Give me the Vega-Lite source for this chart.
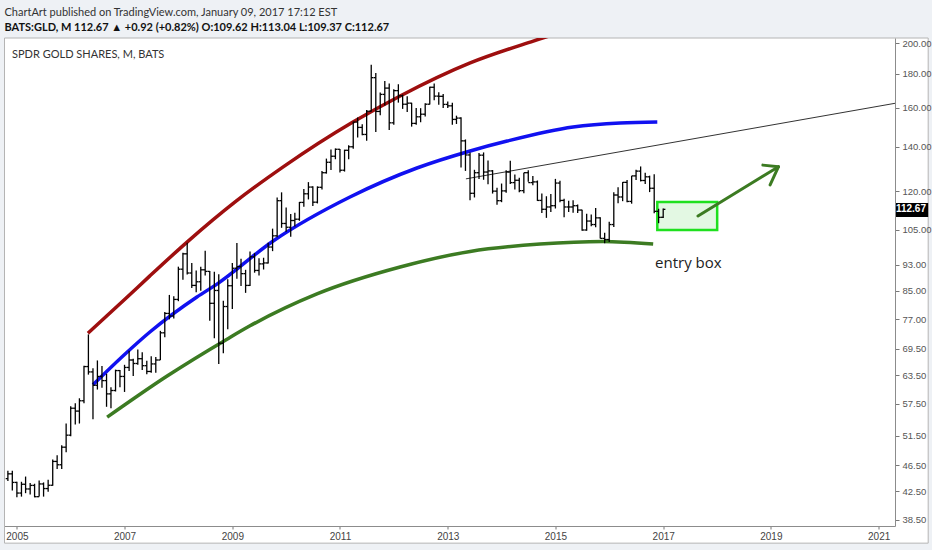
{
  "$schema": "https://vega.github.io/schema/vega-lite/v6.json",
  "width": 890.5,
  "height": 488,
  "autosize": "none",
  "padding": {"left": 4.5, "top": 38, "right": 37, "bottom": 24},
  "background": "#eef1f5",
  "title": {
    "text": "ChartArt published on TradingView.com, January 09, 2017 17:12 EST",
    "subtitle": "BATS:GLD, M  112.67 ▲ +0.92 (+0.82%)  O:109.62 H:113.04 L:109.37 C:112.67",
    "anchor": "start",
    "frame": "group",
    "font": "Lato",
    "fontSize": 11,
    "fontWeight": "normal",
    "color": "#333333",
    "subtitleFont": "Lato",
    "subtitleFontSize": 11,
    "subtitleFontWeight": "bold",
    "subtitleColor": "#111111",
    "subtitlePadding": 4,
    "offset": 5
  },
  "config": {
    "view": {"fill": "white", "stroke": "#8c8c8c"},
    "axis": {"grid": false, "labelFont": "Liberation Sans", "labelFontSize": 9.5, "labelColor": "#555555", "tickColor": "#777777", "domainColor": "#8c8c8c"}
  },
  "datasets": {
    "bars": [
      {"date": "2004-11-01", "open": 44.38, "high": 45.6, "low": 44.0, "close": 45.12},
      {"date": "2004-12-01", "open": 45.12, "high": 45.6, "low": 42.6, "close": 43.8},
      {"date": "2005-01-01", "open": 43.8, "high": 43.9, "low": 41.6, "close": 42.22},
      {"date": "2005-02-01", "open": 42.22, "high": 43.9, "low": 41.7, "close": 43.52},
      {"date": "2005-03-01", "open": 43.52, "high": 44.7, "low": 42.2, "close": 42.82},
      {"date": "2005-04-01", "open": 42.82, "high": 43.7, "low": 42.0, "close": 43.35},
      {"date": "2005-05-01", "open": 43.35, "high": 43.6, "low": 41.6, "close": 41.69},
      {"date": "2005-06-01", "open": 41.69, "high": 44.1, "low": 41.7, "close": 43.57},
      {"date": "2005-07-01", "open": 43.57, "high": 43.8, "low": 41.7, "close": 42.88},
      {"date": "2005-08-01", "open": 42.88, "high": 44.2, "low": 42.4, "close": 43.37},
      {"date": "2005-09-01", "open": 43.37, "high": 47.4, "low": 43.3, "close": 47.1},
      {"date": "2005-10-01", "open": 47.1, "high": 48.1, "low": 45.9, "close": 46.56},
      {"date": "2005-11-01", "open": 46.56, "high": 49.8, "low": 45.9, "close": 49.48},
      {"date": "2005-12-01", "open": 49.48, "high": 53.7, "low": 48.6, "close": 51.58},
      {"date": "2006-01-01", "open": 51.58, "high": 57.0, "low": 51.4, "close": 56.62},
      {"date": "2006-02-01", "open": 56.62, "high": 57.6, "low": 53.5, "close": 56.06},
      {"date": "2006-03-01", "open": 56.06, "high": 58.6, "low": 53.7, "close": 58.1},
      {"date": "2006-04-01", "open": 58.1, "high": 65.6, "low": 57.6, "close": 65.4},
      {"date": "2006-05-01", "open": 65.4, "high": 73.1, "low": 63.6, "close": 64.2},
      {"date": "2006-06-01", "open": 64.2, "high": 65.0, "low": 54.5, "close": 61.3},
      {"date": "2006-07-01", "open": 61.3, "high": 66.8, "low": 60.4, "close": 63.2},
      {"date": "2006-08-01", "open": 63.2, "high": 65.5, "low": 60.8, "close": 62.3},
      {"date": "2006-09-01", "open": 62.3, "high": 63.8, "low": 56.9, "close": 59.5},
      {"date": "2006-10-01", "open": 59.5, "high": 60.9, "low": 56.6, "close": 60.2},
      {"date": "2006-11-01", "open": 60.2, "high": 64.7, "low": 60.0, "close": 64.5},
      {"date": "2006-12-01", "open": 64.5, "high": 64.6, "low": 60.9, "close": 63.2},
      {"date": "2007-01-01", "open": 63.2, "high": 65.8, "low": 59.9, "close": 65.2},
      {"date": "2007-02-01", "open": 65.2, "high": 69.1, "low": 64.4, "close": 66.9},
      {"date": "2007-03-01", "open": 66.9, "high": 67.2, "low": 63.3, "close": 66.1},
      {"date": "2007-04-01", "open": 66.1, "high": 69.4, "low": 65.8, "close": 67.2},
      {"date": "2007-05-01", "open": 67.2, "high": 68.7, "low": 64.6, "close": 65.6},
      {"date": "2007-06-01", "open": 65.6, "high": 66.7, "low": 63.7, "close": 64.3},
      {"date": "2007-07-01", "open": 64.3, "high": 67.8, "low": 64.0, "close": 66.0},
      {"date": "2007-08-01", "open": 66.0, "high": 67.6, "low": 64.0, "close": 66.9},
      {"date": "2007-09-01", "open": 66.9, "high": 74.0, "low": 66.9, "close": 73.5},
      {"date": "2007-10-01", "open": 73.5, "high": 79.0, "low": 72.4, "close": 78.6},
      {"date": "2007-11-01", "open": 78.6, "high": 83.8, "low": 77.0, "close": 77.9},
      {"date": "2007-12-01", "open": 77.9, "high": 83.4, "low": 77.2, "close": 82.5},
      {"date": "2008-01-01", "open": 82.5, "high": 92.4, "low": 82.0, "close": 91.6},
      {"date": "2008-02-01", "open": 91.6, "high": 97.0, "low": 88.3, "close": 96.6},
      {"date": "2008-03-01", "open": 96.6, "high": 100.4, "low": 89.9, "close": 90.4},
      {"date": "2008-04-01", "open": 90.4, "high": 93.6, "low": 85.8, "close": 86.6},
      {"date": "2008-05-01", "open": 86.6, "high": 91.2, "low": 84.6, "close": 87.7},
      {"date": "2008-06-01", "open": 87.7, "high": 92.4, "low": 85.0, "close": 91.4},
      {"date": "2008-07-01", "open": 91.4, "high": 97.6, "low": 89.6, "close": 90.9},
      {"date": "2008-08-01", "open": 90.9, "high": 91.0, "low": 76.6, "close": 81.4},
      {"date": "2008-09-01", "open": 81.4, "high": 90.8, "low": 72.1, "close": 85.1},
      {"date": "2008-10-01", "open": 85.1, "high": 90.0, "low": 66.0, "close": 70.9},
      {"date": "2008-11-01", "open": 70.9, "high": 82.1, "low": 68.5, "close": 80.5},
      {"date": "2008-12-01", "open": 80.5, "high": 88.5, "low": 74.4, "close": 86.5},
      {"date": "2009-01-01", "open": 86.5, "high": 93.6, "low": 79.8, "close": 91.9},
      {"date": "2009-02-01", "open": 91.9, "high": 100.3, "low": 88.6, "close": 92.4},
      {"date": "2009-03-01", "open": 92.4, "high": 95.0, "low": 86.4, "close": 90.2},
      {"date": "2009-04-01", "open": 90.2, "high": 91.4, "low": 84.4, "close": 86.6},
      {"date": "2009-05-01", "open": 86.6, "high": 97.4, "low": 86.4, "close": 95.6},
      {"date": "2009-06-01", "open": 95.6, "high": 96.8, "low": 90.5, "close": 91.2},
      {"date": "2009-07-01", "open": 91.2, "high": 95.1, "low": 89.6, "close": 93.3},
      {"date": "2009-08-01", "open": 93.3, "high": 95.3, "low": 91.5, "close": 93.6},
      {"date": "2009-09-01", "open": 93.6, "high": 100.4, "low": 93.4, "close": 98.9},
      {"date": "2009-10-01", "open": 98.9, "high": 105.4, "low": 97.5, "close": 102.8},
      {"date": "2009-11-01", "open": 102.8, "high": 117.4, "low": 102.3, "close": 116.1},
      {"date": "2009-12-01", "open": 116.1, "high": 119.5, "low": 105.7, "close": 107.3},
      {"date": "2010-01-01", "open": 107.3, "high": 113.4, "low": 104.3, "close": 105.9},
      {"date": "2010-02-01", "open": 105.9, "high": 110.9, "low": 102.5, "close": 108.4},
      {"date": "2010-03-01", "open": 108.4, "high": 111.4, "low": 106.2, "close": 108.9},
      {"date": "2010-04-01", "open": 108.9, "high": 115.6, "low": 108.3, "close": 115.4},
      {"date": "2010-05-01", "open": 115.4, "high": 120.9, "low": 113.7, "close": 118.9},
      {"date": "2010-06-01", "open": 118.9, "high": 123.8, "low": 116.6, "close": 121.7},
      {"date": "2010-07-01", "open": 121.7, "high": 122.0, "low": 114.0, "close": 115.5},
      {"date": "2010-08-01", "open": 115.5, "high": 122.0, "low": 115.0, "close": 121.6},
      {"date": "2010-09-01", "open": 121.6, "high": 128.7, "low": 120.7, "close": 127.9},
      {"date": "2010-10-01", "open": 127.9, "high": 134.3, "low": 127.5, "close": 132.6},
      {"date": "2010-11-01", "open": 132.6, "high": 138.6, "low": 129.1, "close": 135.4},
      {"date": "2010-12-01", "open": 135.4, "high": 139.1, "low": 134.0, "close": 138.7},
      {"date": "2011-01-01", "open": 138.7, "high": 138.8, "low": 128.0, "close": 129.0},
      {"date": "2011-02-01", "open": 129.0, "high": 138.5, "low": 128.4, "close": 138.2},
      {"date": "2011-03-01", "open": 138.2, "high": 140.6, "low": 134.0, "close": 139.9},
      {"date": "2011-04-01", "open": 139.9, "high": 152.5, "low": 139.0, "close": 152.4},
      {"date": "2011-05-01", "open": 152.4, "high": 154.8, "low": 144.5, "close": 149.6},
      {"date": "2011-06-01", "open": 149.6, "high": 151.2, "low": 145.6, "close": 146.0},
      {"date": "2011-07-01", "open": 146.0, "high": 158.9, "low": 142.9, "close": 158.2},
      {"date": "2011-08-01", "open": 158.2, "high": 185.9, "low": 158.0, "close": 177.7},
      {"date": "2011-09-01", "open": 177.7, "high": 180.6, "low": 147.2, "close": 158.1},
      {"date": "2011-10-01", "open": 158.1, "high": 168.8, "low": 156.0, "close": 167.7},
      {"date": "2011-11-01", "open": 167.7, "high": 175.6, "low": 161.4, "close": 171.4},
      {"date": "2011-12-01", "open": 171.4, "high": 174.1, "low": 148.3, "close": 152.0},
      {"date": "2012-01-01", "open": 152.0, "high": 170.7, "low": 151.0, "close": 169.9},
      {"date": "2012-02-01", "open": 169.9, "high": 173.7, "low": 163.0, "close": 166.9},
      {"date": "2012-03-01", "open": 166.9, "high": 167.6, "low": 159.5, "close": 162.1},
      {"date": "2012-04-01", "open": 162.1, "high": 166.6, "low": 157.8, "close": 162.7},
      {"date": "2012-05-01", "open": 162.7, "high": 162.9, "low": 150.0, "close": 151.7},
      {"date": "2012-06-01", "open": 151.7, "high": 160.0, "low": 151.0, "close": 155.2},
      {"date": "2012-07-01", "open": 155.2, "high": 159.9, "low": 152.3, "close": 156.6},
      {"date": "2012-08-01", "open": 156.6, "high": 162.6, "low": 155.3, "close": 162.1},
      {"date": "2012-09-01", "open": 162.1, "high": 172.2, "low": 162.0, "close": 171.9},
      {"date": "2012-10-01", "open": 171.9, "high": 174.1, "low": 164.3, "close": 166.7},
      {"date": "2012-11-01", "open": 166.7, "high": 168.9, "low": 161.8, "close": 166.6},
      {"date": "2012-12-01", "open": 166.6, "high": 167.9, "low": 160.0, "close": 162.0},
      {"date": "2013-01-01", "open": 162.0, "high": 163.6, "low": 160.0, "close": 161.2},
      {"date": "2013-02-01", "open": 161.2, "high": 162.9, "low": 151.0, "close": 153.8},
      {"date": "2013-03-01", "open": 153.8, "high": 155.8, "low": 151.4, "close": 154.5},
      {"date": "2013-04-01", "open": 154.5, "high": 154.9, "low": 130.2, "close": 142.8},
      {"date": "2013-05-01", "open": 142.8, "high": 143.5, "low": 128.7, "close": 136.0},
      {"date": "2013-06-01", "open": 136.0, "high": 137.2, "low": 116.3, "close": 119.1},
      {"date": "2013-07-01", "open": 119.1, "high": 129.2, "low": 117.4, "close": 127.9},
      {"date": "2013-08-01", "open": 127.9, "high": 136.9, "low": 125.1, "close": 135.9},
      {"date": "2013-09-01", "open": 135.9, "high": 137.2, "low": 124.8, "close": 128.2},
      {"date": "2013-10-01", "open": 128.2, "high": 133.4, "low": 122.9, "close": 128.7},
      {"date": "2013-11-01", "open": 128.7, "high": 129.1, "low": 119.0, "close": 120.0},
      {"date": "2013-12-01", "open": 120.0, "high": 121.4, "low": 114.5, "close": 116.1},
      {"date": "2014-01-01", "open": 116.1, "high": 123.2, "low": 115.5, "close": 120.1},
      {"date": "2014-02-01", "open": 120.1, "high": 129.0, "low": 119.3, "close": 128.2},
      {"date": "2014-03-01", "open": 128.2, "high": 133.3, "low": 123.0, "close": 123.6},
      {"date": "2014-04-01", "open": 123.6, "high": 127.1, "low": 120.7, "close": 124.6},
      {"date": "2014-05-01", "open": 124.6, "high": 125.7, "low": 119.5, "close": 120.2},
      {"date": "2014-06-01", "open": 120.2, "high": 127.9, "low": 119.1, "close": 127.9},
      {"date": "2014-07-01", "open": 127.9, "high": 129.0, "low": 124.0, "close": 123.6},
      {"date": "2014-08-01", "open": 123.6, "high": 126.5, "low": 122.5, "close": 123.9},
      {"date": "2014-09-01", "open": 123.9, "high": 124.5, "low": 116.0, "close": 116.2},
      {"date": "2014-10-01", "open": 116.2, "high": 119.0, "low": 111.3, "close": 112.7},
      {"date": "2014-11-01", "open": 112.7, "high": 117.9, "low": 109.4, "close": 113.6},
      {"date": "2014-12-01", "open": 113.6, "high": 118.8, "low": 111.6, "close": 114.1},
      {"date": "2015-01-01", "open": 114.1, "high": 125.2, "low": 113.0, "close": 123.4},
      {"date": "2015-02-01", "open": 123.4, "high": 124.4, "low": 115.5, "close": 116.2},
      {"date": "2015-03-01", "open": 116.2, "high": 116.9, "low": 109.6, "close": 113.6},
      {"date": "2015-04-01", "open": 113.6, "high": 116.1, "low": 111.6, "close": 113.6},
      {"date": "2015-05-01", "open": 113.6, "high": 116.3, "low": 111.4, "close": 114.1},
      {"date": "2015-06-01", "open": 114.1, "high": 114.6, "low": 111.3, "close": 112.4},
      {"date": "2015-07-01", "open": 112.4, "high": 112.5, "low": 104.6, "close": 104.9},
      {"date": "2015-08-01", "open": 104.9, "high": 111.0, "low": 104.6, "close": 108.2},
      {"date": "2015-09-01", "open": 108.2, "high": 110.7, "low": 106.3, "close": 106.9},
      {"date": "2015-10-01", "open": 106.9, "high": 113.2, "low": 105.9, "close": 109.4},
      {"date": "2015-11-01", "open": 109.4, "high": 109.6, "low": 101.9, "close": 101.9},
      {"date": "2015-12-01", "open": 101.9, "high": 103.9, "low": 100.2, "close": 101.5},
      {"date": "2016-01-01", "open": 101.5, "high": 107.9, "low": 100.6, "close": 106.9},
      {"date": "2016-02-01", "open": 106.9, "high": 119.5, "low": 106.0, "close": 118.4},
      {"date": "2016-03-01", "open": 118.4, "high": 121.6, "low": 115.1, "close": 117.6},
      {"date": "2016-04-01", "open": 117.6, "high": 123.8, "low": 115.9, "close": 123.7},
      {"date": "2016-05-01", "open": 123.7, "high": 124.7, "low": 115.5, "close": 115.8},
      {"date": "2016-06-01", "open": 115.8, "high": 126.5, "low": 114.9, "close": 126.5},
      {"date": "2016-07-01", "open": 126.5, "high": 129.2, "low": 124.7, "close": 128.6},
      {"date": "2016-08-01", "open": 128.6, "high": 130.7, "low": 124.1, "close": 124.5},
      {"date": "2016-09-01", "open": 124.5, "high": 127.9, "low": 123.0, "close": 126.1},
      {"date": "2016-10-01", "open": 126.1, "high": 126.6, "low": 119.6, "close": 121.2},
      {"date": "2016-11-01", "open": 121.2, "high": 127.2, "low": 111.2, "close": 111.9},
      {"date": "2016-12-01", "open": 111.9, "high": 112.9, "low": 107.4, "close": 109.6},
      {"date": "2017-01-01", "open": 109.62, "high": 113.04, "low": 109.37, "close": 112.67}
    ],
    "arcs": [
      {"curve": "upper", "date": "2006-04-28", "price": 73.4},
      {"curve": "upper", "date": "2007-01-05", "price": 82.6},
      {"curve": "upper", "date": "2007-06-22", "price": 89.5},
      {"curve": "upper", "date": "2008-02-29", "price": 100.6},
      {"curve": "upper", "date": "2009-01-20", "price": 115.6},
      {"curve": "upper", "date": "2009-12-12", "price": 130.5},
      {"curve": "upper", "date": "2011-03-30", "price": 152.4},
      {"curve": "upper", "date": "2012-02-13", "price": 166.8},
      {"curve": "upper", "date": "2013-06-02", "price": 187.0},
      {"curve": "upper", "date": "2014-08-04", "price": 201.7},
      {"curve": "upper", "date": "2015-04-10", "price": 210.0},
      {"curve": "middle", "date": "2006-06-01", "price": 61.4},
      {"curve": "middle", "date": "2007-01-05", "price": 68.3},
      {"curve": "middle", "date": "2007-06-22", "price": 73.7},
      {"curve": "middle", "date": "2008-05-06", "price": 83.2},
      {"curve": "middle", "date": "2008-09-19", "price": 87.0},
      {"curve": "middle", "date": "2009-10-05", "price": 101.0},
      {"curve": "middle", "date": "2011-03-10", "price": 117.6},
      {"curve": "middle", "date": "2012-06-06", "price": 130.0},
      {"curve": "middle", "date": "2013-06-02", "price": 137.9},
      {"curve": "middle", "date": "2014-02-08", "price": 142.7},
      {"curve": "middle", "date": "2015-05-01", "price": 149.8},
      {"curve": "middle", "date": "2016-03-15", "price": 151.9},
      {"curve": "middle", "date": "2016-11-22", "price": 152.4},
      {"curve": "lower", "date": "2006-09-05", "price": 54.9},
      {"curve": "lower", "date": "2007-10-17", "price": 63.3},
      {"curve": "lower", "date": "2008-11-26", "price": 71.9},
      {"curve": "lower", "date": "2009-05-01", "price": 75.3},
      {"curve": "lower", "date": "2010-07-29", "price": 84.1},
      {"curve": "lower", "date": "2012-02-13", "price": 92.3},
      {"curve": "lower", "date": "2013-06-02", "price": 97.4},
      {"curve": "lower", "date": "2014-09-19", "price": 99.9},
      {"curve": "lower", "date": "2015-11-20", "price": 100.8},
      {"curve": "lower", "date": "2016-10-25", "price": 99.9}
    ],
    "trend": [
      {"date": "2013-05-04", "price": 125.2},
      {"date": "2021-06-01", "price": 163.2}
    ],
    "arrow": [
      {"part": "shaft", "seq": 1, "date": "2017-08-25", "price": 110.1},
      {"part": "shaft", "seq": 2, "date": "2019-02-22", "price": 130.6},
      {"part": "head", "seq": 1, "date": "2018-11-08", "price": 131.3},
      {"part": "head", "seq": 2, "date": "2019-02-22", "price": 130.6},
      {"part": "head", "seq": 3, "date": "2018-12-27", "price": 122.6}
    ],
    "box": [
      {"start": "2016-11-22", "end": "2018-01-02", "low": 104.9, "high": 115.6}
    ],
    "frame": [
      {"start": "2004-10-09", "end": "2021-12-03", "low": 35.5, "high": 203.84}
    ]
  },
  "layer": [
    {
      "data": {"name": "frame"},
      "mark": {"type": "rect", "fill": "#ffffff", "stroke": "#b4b4b4", "strokeWidth": 1, "clip": false},
      "encoding": {
        "x": {
          "field": "start", "type": "temporal", "title": null,
          "scale": {"type": "utc", "domain": [{"year": 2004, "month": 10, "date": 9, "utc": true}, {"year": 2021, "month": 4, "date": 22, "utc": true}]},
          "axis": {
            "orient": "bottom", "zindex": 1, "format": "%Y", "domain": true, "tickSize": 3, "labelPadding": 2, "labelFontSize": 10, "labelColor": "#444444",
            "values": [
              {"year": 2005, "utc": true}, {"year": 2007, "utc": true}, {"year": 2009, "utc": true},
              {"year": 2011, "utc": true}, {"year": 2013, "utc": true}, {"year": 2015, "utc": true},
              {"year": 2017, "utc": true}, {"year": 2019, "utc": true}, {"year": 2021, "utc": true}
            ]
          }
        },
        "x2": {"field": "end"},
        "y": {
          "field": "low", "type": "quantitative", "title": null,
          "scale": {"type": "log", "domain": [37.67, 203.84], "nice": false, "zero": false},
          "axis": {
            "orient": "right", "zindex": 1, "format": ".2f", "tickSize": 4, "labelPadding": 3, "labelOverlap": false,
            "values": [38.5, 42.5, 46.5, 51.5, 57.5, 63.5, 69.5, 77, 85, 93, 105, 120, 140, 160, 180, 200]
          }
        },
        "y2": {"field": "high"}
      }
    },
    {
      "data": {"name": "box"},
      "mark": {"type": "rect", "fill": "#e3f8e3", "stroke": "#1fe01f", "strokeWidth": 2.5},
      "encoding": {
        "x": {"field": "start", "type": "temporal", "title": null},
        "x2": {"field": "end"},
        "y": {"field": "low", "type": "quantitative", "title": null},
        "y2": {"field": "high"}
      }
    },
    {
      "data": {"name": "arcs"},
      "mark": {"type": "line", "interpolate": "monotone", "strokeWidth": 3.5, "clip": true},
      "encoding": {
        "x": {"field": "date", "type": "temporal", "title": null},
        "y": {"field": "price", "type": "quantitative", "title": null},
        "color": {
          "field": "curve", "type": "nominal", "legend": null,
          "scale": {"domain": ["upper", "middle", "lower"], "range": ["#9e0f0f", "#1111f0", "#3c7b22"]}
        }
      }
    },
    {
      "data": {"name": "trend"},
      "mark": {"type": "line", "strokeWidth": 1, "color": "#333333", "clip": true},
      "encoding": {
        "x": {"field": "date", "type": "temporal", "title": null},
        "y": {"field": "price", "type": "quantitative", "title": null}
      }
    },
    {
      "data": {"name": "bars"},
      "mark": {"type": "rule", "color": "#000000", "strokeWidth": 1.3},
      "encoding": {
        "x": {"field": "date", "type": "temporal", "title": null},
        "y": {"field": "low", "type": "quantitative", "title": null},
        "y2": {"field": "high"}
      }
    },
    {
      "data": {"name": "bars"},
      "mark": {"type": "rule", "color": "#000000", "strokeWidth": 1.3, "xOffset": -2.2},
      "encoding": {
        "x": {"field": "date", "type": "temporal", "title": null},
        "x2": {"field": "date"},
        "y": {"field": "open", "type": "quantitative", "title": null}
      }
    },
    {
      "data": {"name": "bars"},
      "mark": {"type": "rule", "color": "#000000", "strokeWidth": 1.3, "x2Offset": 2.2},
      "encoding": {
        "x": {"field": "date", "type": "temporal", "title": null},
        "x2": {"field": "date"},
        "y": {"field": "close", "type": "quantitative", "title": null}
      }
    },
    {
      "data": {"name": "arrow"},
      "mark": {"type": "line", "strokeWidth": 3, "color": "#3c7b22", "strokeCap": "round", "strokeJoin": "round"},
      "encoding": {
        "x": {"field": "date", "type": "temporal", "title": null},
        "y": {"field": "price", "type": "quantitative", "title": null},
        "detail": {"field": "part"},
        "order": {"field": "seq"}
      }
    },
    {
      "data": {"values": [{"date": "2016-11-07", "price": 93.6, "label": "entry box"}]},
      "mark": {"type": "text", "align": "left", "baseline": "middle", "font": "Open Sans", "fontSize": 15, "color": "#222222"},
      "encoding": {
        "x": {"field": "date", "type": "temporal", "title": null},
        "y": {"field": "price", "type": "quantitative", "title": null},
        "text": {"field": "label"}
      }
    },
    {
      "data": {"values": [{"date": "2004-11-29", "price": 192.5, "label": "SPDR GOLD SHARES, M, BATS"}]},
      "mark": {"type": "text", "align": "left", "baseline": "middle", "font": "Lato", "fontSize": 11, "color": "#333333"},
      "encoding": {
        "x": {"field": "date", "type": "temporal", "title": null},
        "y": {"field": "price", "type": "quantitative", "title": null},
        "text": {"field": "label"}
      }
    },
    {
      "data": {"values": [{"start": "2021-04-23", "end": "2021-12-03", "low": 109.7, "high": 115.2}]},
      "mark": {"type": "rect", "color": "#000000", "clip": false},
      "encoding": {
        "x": {"field": "start", "type": "temporal", "title": null},
        "x2": {"field": "end"},
        "y": {"field": "low", "type": "quantitative", "title": null},
        "y2": {"field": "high"}
      }
    },
    {
      "data": {"values": [{"date": "2021-08-08", "price": 112.67, "label": "112.67"}]},
      "mark": {"type": "text", "align": "center", "baseline": "middle", "font": "Liberation Sans", "fontSize": 10, "fontWeight": "bold", "color": "#ffffff", "clip": false},
      "encoding": {
        "x": {"field": "date", "type": "temporal", "title": null},
        "y": {"field": "price", "type": "quantitative", "title": null},
        "text": {"field": "label"}
      }
    }
  ]
}
